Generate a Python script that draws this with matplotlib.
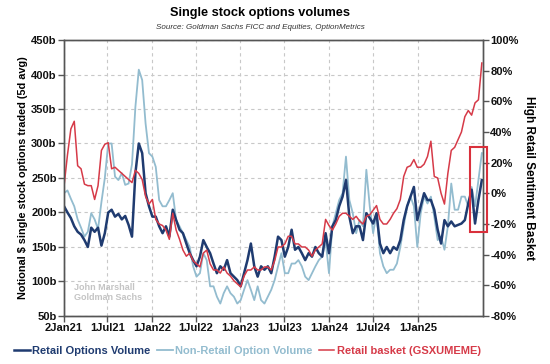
import numpy as np
import pandas as pd
import matplotlib
matplotlib.use("Agg")
import matplotlib.pyplot as plt
from matplotlib.patches import Rectangle
from matplotlib.ticker import FuncFormatter

plt.rcParams['font.family'] = ['Liberation Sans', 'DejaVu Sans']

# fortnightly readings, Jan 2021 -> Sep 2025
dates = pd.date_range('2021-01-04', periods=124, freq='14D')

# retail options volume ($b, 5d avg)
retail = [209, 200, 192, 180, 172, 168, 160, 150, 178, 172,
          178, 152, 170, 200, 204, 194, 198, 190, 195, 182,
          165, 257, 300, 286, 228, 209, 194, 194, 180, 170,
          180, 165, 204, 189, 175, 170, 155, 141, 131, 122,
          136, 160, 150, 141, 126, 112, 122, 117, 131, 112,
          107, 102, 93, 112, 131, 155, 122, 107, 122, 117,
          122, 112, 136, 165, 160, 136, 150, 175, 146, 150,
          141, 131, 141, 136, 150, 141, 136, 170, 141, 180,
          189, 209, 223, 247, 194, 170, 180, 180, 160, 199,
          192, 184, 199, 155, 141, 150, 141, 150, 146, 160,
          189, 209, 223, 237, 189, 209, 228, 218, 218, 204,
          175, 155, 189, 180, 187, 180, 182, 184, 189, 213,
          233, 184, 218, 247]

# non-retail option volume ($b, 5d avg)
non_retail = [228, 232, 220, 209, 190, 178, 165, 172, 199, 190,
              176, 215, 250, 300, 300, 252, 247, 257, 240, 242,
              270, 353, 407, 392, 329, 286, 281, 266, 218, 209,
              209, 218, 228, 189, 180, 170, 160, 150, 122, 107,
              112, 141, 131, 93, 93, 78, 68, 83, 93, 83,
              78, 68, 73, 88, 102, 88, 73, 93, 73, 68,
              78, 88, 102, 122, 141, 112, 112, 126, 126, 131,
              122, 107, 102, 112, 122, 131, 136, 160, 112, 180,
              199, 218, 228, 281, 218, 199, 170, 189, 180, 262,
              209, 170, 199, 141, 122, 112, 117, 117, 126, 150,
              180, 209, 223, 209, 150, 199, 223, 213, 223, 194,
              160, 165, 146, 180, 242, 204, 204, 223, 223, 209,
              237, 209, 247, 286]

# retail basket GSXUMEME (%)
basket = [5, 25, 42, 47, 18, 16, 6, 5, 5, -4,
          5, 28, 32, 33, 16, 17, 15, 13, 11, 9,
          7, 15, 13, 9, -2, -7, -4, -17, -20, -21,
          -24, -30, -13, -24, -30, -37, -41, -39, -44, -46,
          -48, -39, -37, -46, -50, -50, -52, -48, -52, -54,
          -57, -59, -61, -54, -50, -50, -48, -50, -50, -48,
          -48, -50, -44, -35, -35, -33, -28, -28, -33, -33,
          -35, -35, -37, -41, -37, -35, -33, -17, -21, -24,
          -20, -15, -13, -13, -15, -17, -15, -18, -20, -15,
          -14, -11, -8, -17, -20, -20, -17, -13, -10, -4,
          11, 17, 18, 22, 17, 17, 19, 24, 34, 11,
          10, 0, -7, 13, 28, 30, 35, 40, 50, 54,
          51, 59, 61, 85]

xtick_dates = pd.to_datetime(['2021-01-02', '2021-07-01', '2022-01-01', '2022-07-01',
                              '2023-01-01', '2023-07-01', '2024-01-01', '2024-07-01',
                              '2025-01-01'])
xtick_labels = ['2Jan21', '1Jul21', '1Jan22', '1Jul22', '1Jan23', '1Jul23',
                '1Jan24', '1Jul24', '1Jan25']

c_retail = '#1f3b70'
c_non = '#93bccf'
c_basket = '#d63a48'
spine_c = '#555555'

fig = plt.figure(figsize=(5.5, 3.64), dpi=100)
ax = fig.add_axes([0.1156, 0.1319, 0.7631, 0.7582])
ax2 = ax.twinx()

ax.plot(dates, non_retail, color=c_non, lw=1.3, label='Non-Retail Option Volume')
ax.plot(dates, retail, color=c_retail, lw=1.8, label='Retail Options Volume')
ax2.plot(dates, basket, color=c_basket, lw=1.1, label='Retail basket (GSXUMEME)')

ax.set_ylim(50, 450)
ax.set_yticks(np.arange(50, 451, 50))
ax.yaxis.set_major_formatter(FuncFormatter(lambda v, p: f'{v:.0f}b'))
ax2.set_ylim(-80, 100)
ax2.set_yticks(np.arange(-80, 101, 20))
ax2.yaxis.set_major_formatter(FuncFormatter(lambda v, p: f'{v:.0f}%'))

ax.set_xlim(pd.Timestamp('2021-01-02'), pd.Timestamp('2025-09-28'))
ax.set_xticks(xtick_dates)
ax.set_xticklabels(xtick_labels)

ax.grid(True, color='#c8c8c8', ls=(0, (3, 3)), lw=0.8)
ax.set_axisbelow(True)

for a in (ax, ax2):
    for s in a.spines.values():
        s.set_color(spine_c)
        s.set_linewidth(1.0)
    a.tick_params(colors=spine_c, labelcolor='#111111', length=4, width=1, labelsize=8)
    for lab in a.get_xticklabels() + a.get_yticklabels():
        lab.set_fontweight('bold')
ax.tick_params(axis='x', pad=1)
ax.tick_params(axis='y', pad=1)
ax2.tick_params(axis='y', pad=1)

ax.set_ylabel('Notional $ single stock options traded (5d avg)', fontsize=7.8,
              fontweight='bold', labelpad=2)
ax2.set_ylabel('High Retail Sentiment Basket', fontsize=8.5, fontweight='bold',
               rotation=-90, labelpad=12)

fig.text(0.473, 0.963, 'Single stock options volumes', ha='center', va='center',
         fontsize=9.2, fontweight='bold')
fig.text(0.473, 0.925, 'Source: Goldman Sachs FICC and Equities, OptionMetrics',
         ha='center', va='center', fontsize=5.8, style='italic', color='#333333')

ax.text(0.025, 0.085, 'John Marshall\nGoldman Sachs', transform=ax.transAxes,
        fontsize=6.5, color='#c4c4c4', fontweight='bold', va='center', linespacing=1.1)

# highlight box on the latest readings
fig.add_artist(Rectangle((470 / 550, (364 - 232) / 364), 17 / 550, 85 / 364,
                         transform=fig.transFigure, fill=False, ec='#d9303c', lw=1.5))

h1, l1 = ax.get_legend_handles_labels()
h2, l2 = ax2.get_legend_handles_labels()
leg = fig.legend([h1[1], h1[0], h2[0]], [l1[1], l1[0], l2[0]], loc='center',
                 bbox_to_anchor=(0.45, 0.035), ncol=3, frameon=False,
                 handlelength=1.4, handletextpad=0.2, columnspacing=0.6,
                 labelcolor='linecolor', prop={'weight': 'bold', 'size': 8})

fig.savefig('out.png', dpi=100)
